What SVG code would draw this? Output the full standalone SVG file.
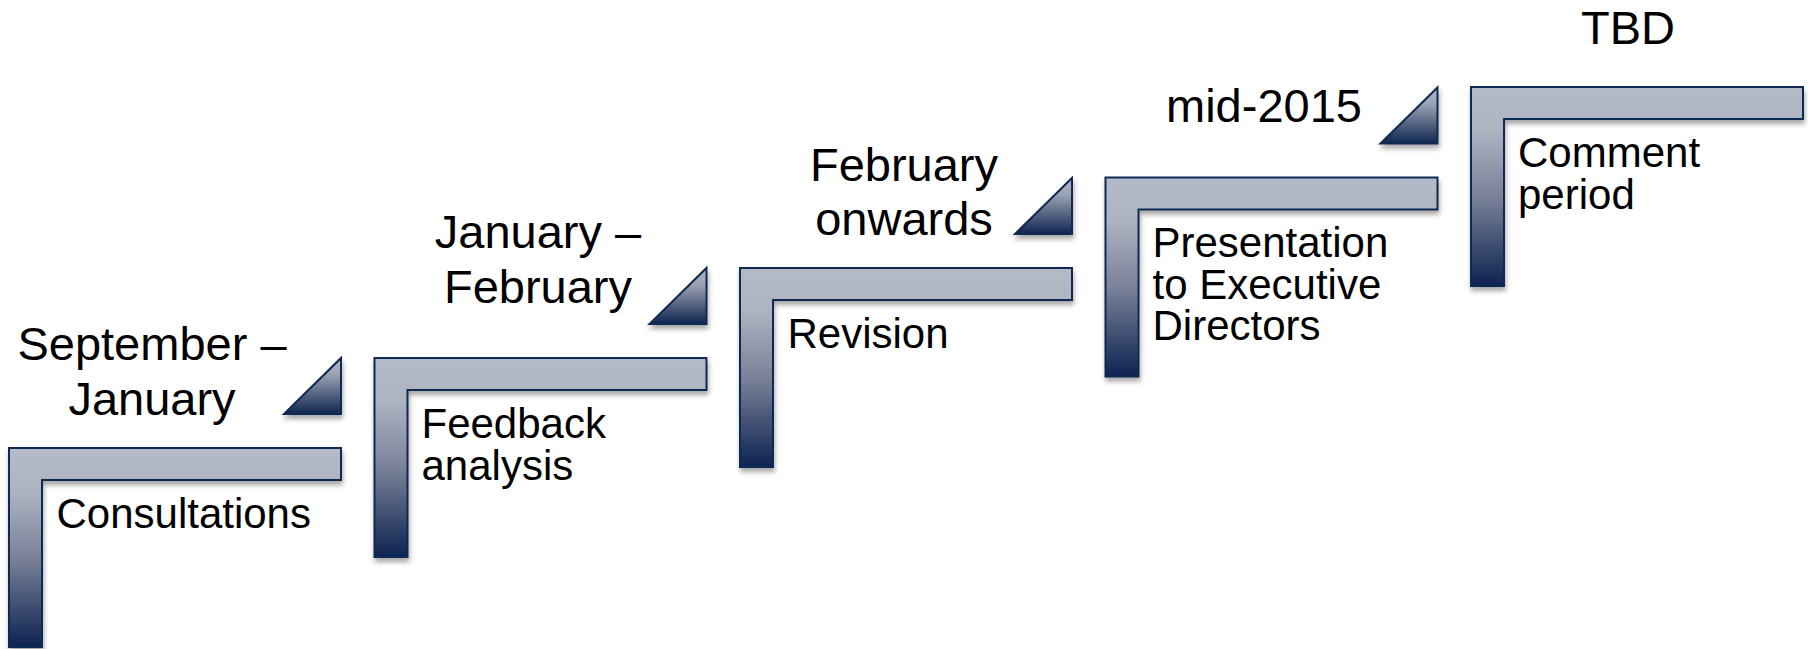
<svg xmlns="http://www.w3.org/2000/svg" width="1808" height="649" viewBox="0 0 1808 649">
<defs>
<linearGradient id="gL" x1="0" y1="0" x2="0" y2="1">
<stop offset="0" stop-color="#b4bac7"/>
<stop offset="0.22" stop-color="#adb3c1"/>
<stop offset="0.55" stop-color="#7a8299"/>
<stop offset="1" stop-color="#0d2350"/>
</linearGradient>
<linearGradient id="gT" x1="0" y1="0" x2="0" y2="1">
<stop offset="0" stop-color="#b4bac7"/>
<stop offset="0.3" stop-color="#9aa1b2"/>
<stop offset="1" stop-color="#0f2550"/>
</linearGradient>
<filter id="sh" x="-10%" y="-10%" width="125%" height="130%">
<feDropShadow dx="1" dy="4" stdDeviation="2.5" flood-color="#000" flood-opacity="0.35"/>
</filter>
</defs>
<style>
.step{fill:url(#gL);stroke:#0f2a52;stroke-width:2;stroke-linejoin:miter;filter:url(#sh)}
.tri{fill:url(#gT);stroke:#0f2a52;stroke-width:2;stroke-linejoin:miter;filter:url(#sh)}
.lbl{font-family:"Liberation Sans",Arial,sans-serif;font-size:42px;fill:#000}
.date{font-family:"Liberation Sans",Arial,sans-serif;font-size:47px;fill:#000;text-anchor:middle}
</style>
<g id="connectors"/>
<g id="step1">
<path class="step" d="M9,448 H341 V480 H42 V647 H9 Z"/>
<path class="tri" d="M341,358 V414 H284 Z"/>
<text class="date"><tspan x="152" y="360">September –</tspan><tspan x="152" y="415">January</tspan></text>
<text class="lbl" x="56.5" y="528">Consultations</text>
</g>
<g id="step2">
<path class="step" d="M374.5,358 H706.5 V390 H407.5 V557 H374.5 Z"/>
<path class="tri" d="M706.5,268 V324 H649.5 Z"/>
<text class="date"><tspan x="538" y="248">January –</tspan><tspan x="538" y="303">February</tspan></text>
<text class="lbl"><tspan x="421.5" y="438">Feedback</tspan><tspan x="421.5" y="480">analysis</tspan></text>
</g>
<g id="step3">
<path class="step" d="M740,268 H1072 V300 H773 V467 H740 Z"/>
<path class="tri" d="M1072,178 V234 H1015 Z"/>
<text class="date"><tspan x="904" y="181">February</tspan><tspan x="904" y="235">onwards</tspan></text>
<text class="lbl" x="787.5" y="348">Revision</text>
</g>
<g id="step4">
<path class="step" d="M1105.5,177.5 H1437.5 V209.5 H1138.5 V376.5 H1105.5 Z"/>
<path class="tri" d="M1437.5,87.5 V143.5 H1380.5 Z"/>
<text class="date" x="1264" y="122">mid-2015</text>
<text class="lbl"><tspan x="1152.5" y="257">Presentation</tspan><tspan x="1152.5" y="298.5">to Executive</tspan><tspan x="1152.5" y="340">Directors</tspan></text>
</g>
<g id="step5">
<path class="step" d="M1471,87 H1803 V119 H1504 V286 H1471 Z"/>
<text class="date" x="1628" y="44">TBD</text>
<text class="lbl"><tspan x="1518" y="167">Comment</tspan><tspan x="1518" y="209">period</tspan></text>
</g>
</svg>
